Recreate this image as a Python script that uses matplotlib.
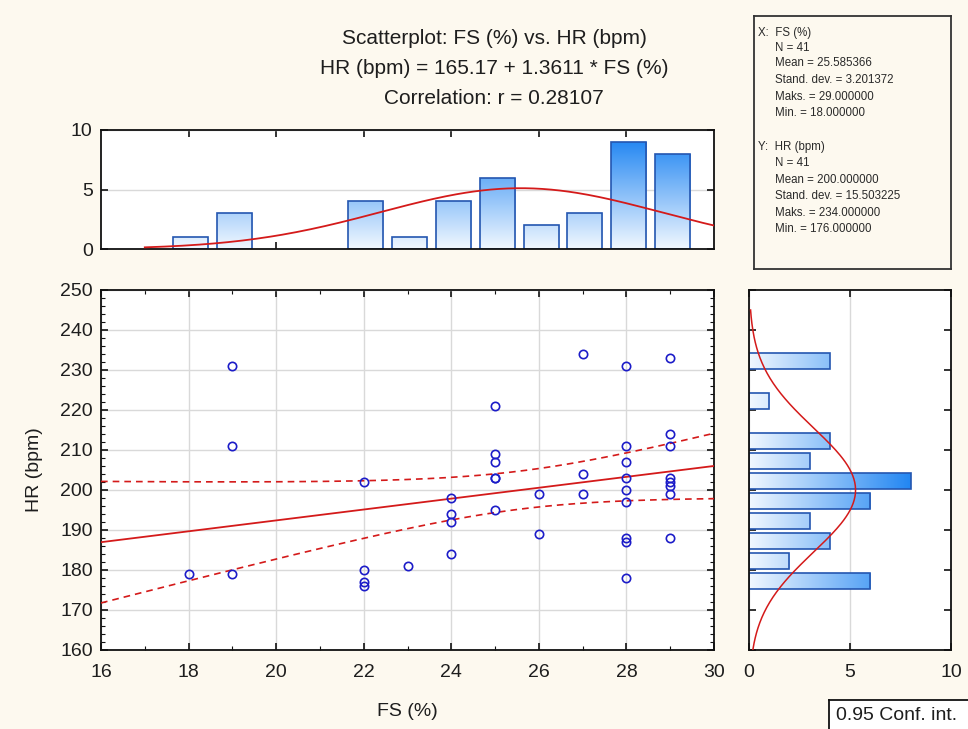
import numpy as np
import matplotlib
matplotlib.use('Agg')
from matplotlib import pyplot as plt
from matplotlib.colors import LinearSegmentedColormap
from matplotlib.ticker import MultipleLocator

plt.rcParams['font.family'] = ['Liberation Sans', 'DejaVu Sans']

fs = [18,
      19, 19, 19,
      22, 22, 22, 22,
      23,
      24, 24, 24, 24,
      25, 25, 25, 25, 25, 25,
      26, 26,
      27, 27, 27,
      28, 28, 28, 28, 28, 28, 28, 28, 28,
      29, 29, 29, 29, 29, 29, 29, 29]
hr = [179,
      231, 211, 179,
      202, 180, 177, 176,
      181,
      198, 194, 192, 184,
      221, 209, 207, 203, 203, 195,
      199, 189,
      234, 204, 199,
      231, 211, 207, 203, 200, 197, 188, 187, 178,
      233, 214, 211, 203, 202, 201, 199, 188]

title_lines = ['Scatterplot: FS (%) vs. HR (bpm)',
               'HR (bpm) = 165.17 + 1.3611 * FS (%)',
               'Correlation: r = 0.28107']
stats_x = ['X:  FS (%)', 'N = 41', 'Mean = 25.585366', 'Stand. dev. = 3.201372',
           'Maks. = 29.000000', 'Min. = 18.000000']
stats_y = ['Y:  HR (bpm)', 'N = 41', 'Mean = 200.000000', 'Stand. dev. = 15.503225',
           'Maks. = 234.000000', 'Min. = 176.000000']

fs = np.array(fs, dtype=float)
hr = np.array(hr, dtype=float)
n = len(fs)

bg = '#fdf9ef'
red = '#d41a1a'
txt = '#1e1e1e'
grid_c = '#d9d9d9'
edge_c = '#2456b0'
bar_cmap = LinearSegmentedColormap.from_list('bars', ['#f2f8ff', '#1a82f2'])

fig = plt.figure(figsize=(9.68, 7.29), dpi=100, facecolor=bg)
W, H = 968.0, 729.0
def box(l, t, r, b):
    return [l / W, 1 - b / H, (r - l) / W, (b - t) / H]

ax = fig.add_axes(box(101, 290, 714, 650))
axt = fig.add_axes(box(101, 130, 714, 249))
axr = fig.add_axes(box(749, 290, 951, 650))

def style_ticks(a):
    a.tick_params(which='both', direction='in', top=True, right=True, colors='#111111',
                  labelcolor=txt, labelsize=14)
    a.tick_params(which='major', length=5, width=1.2)
    a.tick_params(which='minor', length=3, width=0.8)
    for s in a.spines.values():
        s.set_linewidth(1.3)
        s.set_color('#111111')

# --- scatter ---
xs = np.linspace(16, 30, 200)
b1, b0 = np.polyfit(fs, hr, 1)
fit = b0 + b1 * xs
resid = hr - (b0 + b1 * fs)
s = np.sqrt(np.sum(resid ** 2) / (n - 2))
sxx = np.sum((fs - fs.mean()) ** 2)
se = s * np.sqrt(1.0 / n + (xs - fs.mean()) ** 2 / sxx)
t95 = 2.0227
ax.plot(xs, fit, color=red, lw=1.3, zorder=3)
ax.plot(xs, fit + t95 * se, color=red, lw=1.2, ls=(0, (4, 3)), zorder=3)
ax.plot(xs, fit - t95 * se, color=red, lw=1.2, ls=(0, (4, 3)), zorder=3)
ax.plot(fs, hr, 'o', mfc='none', mec='#1c1cc8', ms=6, mew=1.2, zorder=4)
ax.set_xlim(16, 30)
ax.set_ylim(160, 250)
ax.xaxis.set_major_locator(MultipleLocator(2))
ax.xaxis.set_minor_locator(MultipleLocator(1))
ax.yaxis.set_major_locator(MultipleLocator(10))
ax.yaxis.set_minor_locator(MultipleLocator(2))
ax.grid(True, which='major', color=grid_c, lw=1)
ax.set_axisbelow(True)
style_ticks(ax)
ax.tick_params(axis='x', pad=10)
ax.tick_params(axis='y', pad=6)
ax.set_xlabel('FS (%)', fontsize=14, color=txt, labelpad=16)
ax.set_ylabel('HR (bpm)', fontsize=14, color=txt, labelpad=12)

# --- top histogram of FS ---
vals, counts = np.unique(fs, return_counts=True)
bars = axt.bar(vals + 0.05, counts, width=0.8, facecolor='none', edgecolor=edge_c, lw=1.2, zorder=2)
grad = np.linspace(0, 1, 256).reshape(-1, 1)
for b in bars:
    im = axt.imshow(grad, extent=[16, 30, 0, 9.5], origin='lower', cmap=bar_cmap,
                    aspect='auto', zorder=1.5)
    im.set_clip_path(b)
xc = np.linspace(17, 30, 200)
sdx = fs.std(ddof=1)
curve = n * 1.0 / (sdx * np.sqrt(2 * np.pi)) * np.exp(-0.5 * ((xc - fs.mean()) / sdx) ** 2)
axt.plot(xc, curve, color=red, lw=1.3, zorder=3)
axt.set_xlim(16, 30)
axt.set_ylim(0, 10)
axt.yaxis.set_major_locator(MultipleLocator(5))
axt.grid(True, axis='y', color=grid_c, lw=1)
axt.set_axisbelow(True)
style_ticks(axt)
axt.tick_params(axis='y', pad=6)
axt.set_xticks(np.arange(18, 30, 2))
axt.set_xticklabels([])

# --- right histogram of HR ---
edges = np.arange(160, 251, 5)
hcounts = np.array([np.sum((hr > lo) & (hr <= lo + 5)) for lo in edges[:-1]])
centers = edges[:-1] + 2.5
keep = hcounts > 0
rbars = axr.barh(centers[keep] - 0.25, hcounts[keep], height=4.0, facecolor='none',
                 edgecolor=edge_c, lw=1.2, zorder=2)
gradh = np.linspace(0, 1, 256).reshape(1, -1)
for b in rbars:
    im = axr.imshow(gradh, extent=[0, 8.3, 160, 250], origin='lower', cmap=bar_cmap,
                    aspect='auto', zorder=1.5)
    im.set_clip_path(b)
yc = np.linspace(160, 245, 200)
sdy = hr.std(ddof=1)
curve_r = n * 5.0 / (sdy * np.sqrt(2 * np.pi)) * np.exp(-0.5 * ((yc - hr.mean()) / sdy) ** 2)
axr.plot(curve_r, yc, color=red, lw=1.1, zorder=3)
axr.set_xlim(0, 10)
axr.set_ylim(160, 250)
axr.yaxis.set_major_locator(MultipleLocator(10))
axr.set_yticklabels([])
axr.grid(True, axis='x', color=grid_c, lw=1)
axr.set_axisbelow(True)
style_ticks(axr)
axr.tick_params(axis='x', pad=10)
axr.set_xticks([0, 5, 10])
axr.set_xticklabels(['0', '5', '10'])

# --- titles ---
for i, line in enumerate(title_lines):
    fig.text(494 / W, 1 - (38 + 30 * i) / H, line, ha='center', va='center', fontsize=15, color=txt)

# --- stats box ---
axs = fig.add_axes(box(754, 16, 951, 269), facecolor=bg)
axs.set_xticks([])
axs.set_yticks([])
for sp in axs.spines.values():
    sp.set_color('#333333')
    sp.set_linewidth(1.3)
ys_x = [33, 48, 63, 80, 97, 113]
ys_y = [147, 163, 180, 196, 213, 229]
for lines, ys in ((stats_x, ys_x), (stats_y, ys_y)):
    for j, (line, yy) in enumerate(zip(lines, ys)):
        xx = 758 if j == 0 else 775
        fig.text(xx / W, 1 - yy / H, line, ha='left', va='center', fontsize=8.3, color='#2a2a2a')

# --- conf int box ---
axc = fig.add_axes(box(829, 700, 975, 735), facecolor='white')
axc.set_xticks([])
axc.set_yticks([])
for sp in axc.spines.values():
    sp.set_color('#111111')
    sp.set_linewidth(1.3)
fig.text(836 / W, 1 - 716 / H, '0.95 Conf. int.', ha='left', va='center', fontsize=14, color=txt)

fig.savefig('out.png', dpi=100, facecolor=bg)
